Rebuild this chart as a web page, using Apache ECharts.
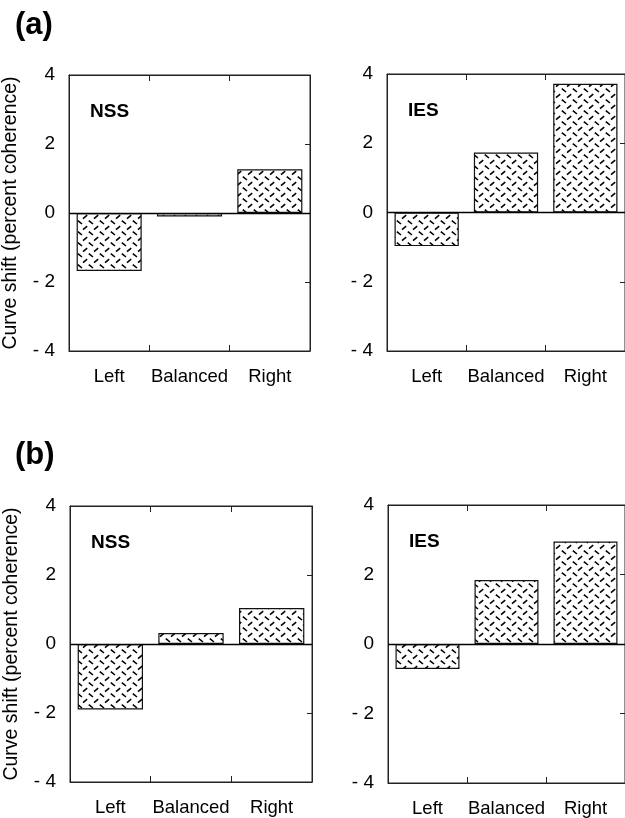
<!DOCTYPE html>
<html>
<head>
<meta charset="utf-8">
<script src="https://cdn.jsdelivr.net/npm/echarts@6/dist/echarts.min.js"></script>
<style>
html,body{margin:0;padding:0;background:#fff;}
#c{width:625px;height:818px;}
</style>
</head>
<body>
<div id="c"></div>
<script>
// ---- data ----
var categories = ['Left', 'Balanced', 'Right'];
var nssA = [-1.68, -0.1, 1.27];
var iesA = [-0.97, 1.73, 3.72];
var nssB = [-1.9, 0.32, 1.04];
var iesB = [-0.72, 1.84, 2.95];
var panelNames = ['NSS', 'IES', 'NSS', 'IES'];
var panelLetters = ['(a)', '(b)'];
var yTicks = [-4, -2, 0, 2, 4];
var yTitle = 'Curve shift (percent coherence)';

// ---- tread-plate pattern ----
function makePattern() {
  var s = 11;
  var cv = document.createElement('canvas');
  cv.width = s; cv.height = s;
  var g = cv.getContext('2d');
  g.fillStyle = '#fff';
  g.fillRect(0, 0, s, s);
  g.strokeStyle = '#000';
  g.lineWidth = 1.6;
  g.lineCap = 'butt';
  g.beginPath();
  g.moveTo(0.8, 0.6); g.lineTo(5, 4);
  g.moveTo(6, 9.6); g.lineTo(10.2, 6.2);
  g.stroke();
  return cv;
}
var pat = makePattern();

var FONT = '"Liberation Sans", Arial, Helvetica, sans-serif';
var ink = '#000';

var grids = [
  {left: 69, top: 75, width: 241, height: 276},
  {left: 387, top: 74, width: 240, height: 277},
  {left: 70, top: 506, width: 242, height: 276},
  {left: 388, top: 505, width: 240, height: 278}
];
var datasets = [nssA, iesA, nssB, iesB];

var xAxes = [], yAxes = [], series = [], titles = [];
grids.forEach(function (gr, i) {
  gr.show = true;
  gr.borderColor = '#222';
  gr.borderWidth = 1;
  gr.backgroundColor = 'transparent';
  ['bottom', 'top'].forEach(function (pos) {
    xAxes.push({
      type: 'category', gridIndex: i, data: categories, position: pos,
      boundaryGap: true,
      axisLine: {show: true, onZero: false, lineStyle: {color: '#222', width: 1}},
      axisTick: {show: true, inside: true, length: 6, lineStyle: {color: '#222'}},
      axisLabel: {show: pos === 'bottom', interval: 0, color: ink, fontFamily: FONT, fontSize: 18.5, margin: 16},
      splitLine: {show: false}
    });
  });
  ['left', 'right'].forEach(function (pos) {
    var ax = {
      type: 'value', gridIndex: i, position: pos, min: -4, max: 4, interval: 2,
      axisLine: {show: true, lineStyle: {color: '#222', width: 1}},
      axisTick: {show: pos === 'right', inside: true, length: 5, lineStyle: {color: '#222'}},
      axisLabel: {
        show: pos === 'left', color: ink, fontFamily: FONT, fontSize: 19, margin: 14,
        formatter: function (v) { return v < 0 ? '- ' + Math.abs(v) : String(v); }
      },
      splitLine: {show: false}
    };
    if (pos === 'left' && (i === 0 || i === 2)) {
      ax.name = yTitle;
      ax.nameLocation = 'middle';
      ax.nameRotate = 90;
      ax.nameGap = 48;
      ax.nameTextStyle = {color: ink, fontFamily: FONT, fontSize: 19.5};
    }
    yAxes.push(ax);
  });
  series.push({
    type: 'bar', xAxisIndex: i * 2, yAxisIndex: i * 2, data: datasets[i],
    barWidth: '81%',
    itemStyle: {color: {image: pat, repeat: 'repeat'}, borderColor: '#111', borderWidth: 1.2},
    silent: true, animation: false,
    markLine: {
      silent: true, symbol: 'none', label: {show: false},
      lineStyle: {color: '#000', width: 1.3, type: 'solid'},
      data: [{yAxis: 0}]
    }
  });
  titles.push({
    text: panelNames[i],
    left: gr.left + 21, top: gr.top + 27,
    padding: 0,
    textStyle: {fontFamily: FONT, fontWeight: 'bold', fontSize: 19, color: '#000'}
  });
});
titles.push({text: panelLetters[0], left: 15, top: 10, padding: 0,
  textStyle: {fontFamily: FONT, fontWeight: 'bold', fontSize: 31, color: '#000'}});
titles.push({text: panelLetters[1], left: 15, top: 440, padding: 0,
  textStyle: {fontFamily: FONT, fontWeight: 'bold', fontSize: 31, color: '#000'}});

var chart = echarts.init(document.getElementById('c'), null, {renderer: 'canvas'});
chart.setOption({
  animation: false,
  backgroundColor: '#fff',
  title: titles,
  grid: grids,
  xAxis: xAxes,
  yAxis: yAxes,
  series: series
});
</script>
</body>
</html>
